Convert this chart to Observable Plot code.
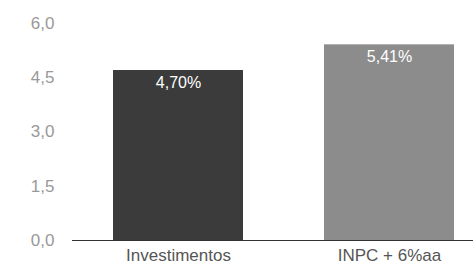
<!DOCTYPE html>
<html>
<head>
<meta charset="utf-8">
<script src="https://cdn.jsdelivr.net/npm/d3@7"></script>
<script src="https://cdn.jsdelivr.net/npm/@observablehq/plot@0.6"></script>
<style>
  html, body { margin: 0; padding: 0; background: #fff; }
  svg { font-family: "Liberation Sans", Arial, sans-serif; }
</style>
</head>
<body>
<div id="chart"></div>
<script>
const categories = ["Investimentos", "INPC + 6%aa"];
const values = [4.70, 5.41];
const barColors = ["#3b3b3b", "#8c8c8c"];
const yTicks = [0, 1.5, 3.0, 4.5, 6.0];

const data = categories.map((c, i) => ({cat: c, value: values[i], color: barColors[i]}));
const fmt = v => v.toFixed(1).replace(".", ",");
const fmtPct = v => v.toFixed(2).replace(".", ",") + "%";

const chart = Plot.plot({
  width: 473,
  height: 269,
  marginLeft: 72,
  marginRight: 0,
  marginTop: 23,
  marginBottom: 29,
  style: {fontFamily: "Liberation Sans, Arial, sans-serif", background: "#fff"},
  x: {domain: categories, paddingInner: 0.382, paddingOuter: 0.137, align: 0.69, label: null},
  y: {domain: [0, 6], label: null},
  marks: [
    Plot.barY(data, {x: "cat", y: "value", fill: "color"}),
    Plot.ruleY([0], {stroke: "#333", strokeWidth: 1}),
    Plot.text(data, {x: "cat", y: "value", text: d => fmtPct(d.value), fill: "#fff", dy: 12, fontSize: 16}),
    Plot.axisY({ticks: yTicks, tickFormat: fmt, tickSize: 0, tickPadding: 18, fontSize: 17, fill: "#999", label: null}),
    Plot.axisX({tickSize: 0, tickPadding: 8, fontSize: 17, fill: "#555", label: null})
  ]
});
document.getElementById("chart").appendChild(chart);
</script>
</body>
</html>
